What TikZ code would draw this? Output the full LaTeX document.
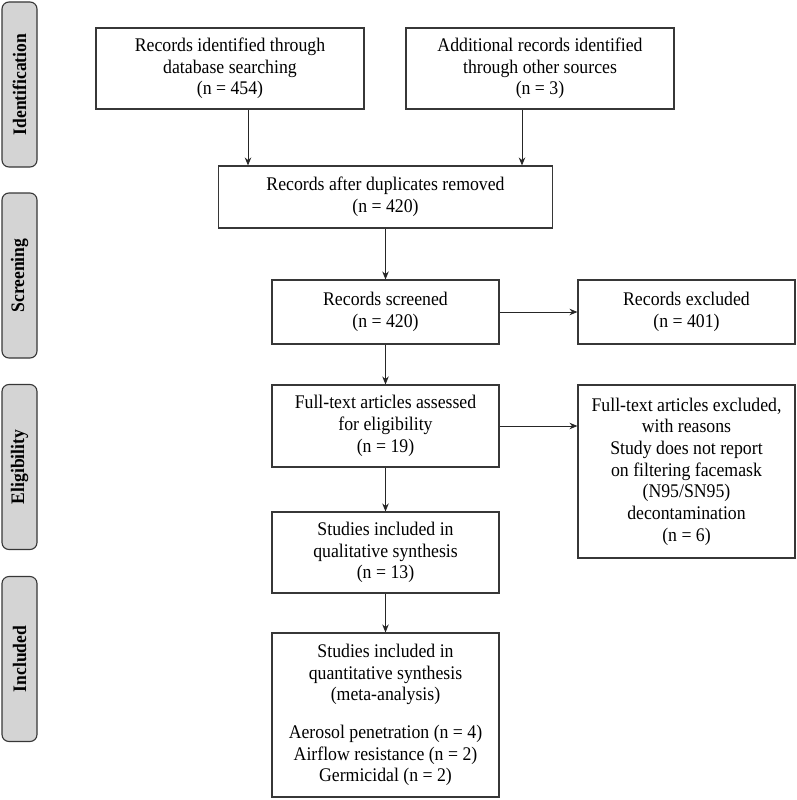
\documentclass[tikz,border=0pt]{standalone}
\usepackage{fontspec}
\setmainfont{Liberation Serif}[FakeStretch=0.92]
\usepackage{tikz}
\usetikzlibrary{arrows.meta}
\definecolor{tabgray}{RGB}{212, 212, 212}
\definecolor{edgegray}{RGB}{55, 55, 55}

\begin{document}
\begin{tikzpicture}[x=1pt, y=-1pt,
  box/.style={draw=edgegray, line width=1.1pt, align=center, inner sep=0pt,
    font=\fontsize{19.3}{21.7}\selectfont},
  tab/.style={draw=edgegray, fill=tabgray, line width=1.1pt, rounded corners=7pt,
    minimum width=165pt, minimum height=35pt, inner sep=0pt, rotate=90,
    font=\bfseries\fontsize{19.1}{21}\selectfont},
  arr/.style={-{Stealth[length=8pt, width=6.5pt]}, line width=0.9pt, draw=black!85}]
\useasboundingbox (0,0) rectangle (796,800);

% Phase tabs
\node[tab] (tabid) at (19.5,84.5) {Identification};
\node[tab] (tabscr) at (19.5,275.5) {Screening};
\node[tab] (tabel) at (19.5,467) {Eligibility};
\node[tab] (tabinc) at (19.5,659) {Included};

% Identification
\node[box, minimum width=268pt, minimum height=81pt] (db) at (230,68.5)
  {Records identified through\\database searching\\(n = 454)};
\node[box, minimum width=268pt, minimum height=81pt] (other) at (540,68.5)
  {Additional records identified\\through other sources\\(n = 3)};
\node[box, minimum width=334pt, minimum height=62pt] (dup) at (385.5,197)
  {Records after duplicates removed\\(n = 420)};

% Screening
\node[box, minimum width=227pt, minimum height=64pt] (scr) at (385.5,312)
  {Records screened\\(n = 420)};
\node[box, minimum width=217pt, minimum height=64pt] (excl) at (686.5,312)
  {Records excluded\\(n = 401)};

% Eligibility
\node[box, minimum width=227pt, minimum height=82pt] (ft) at (385.5,426)
  {Full-text articles assessed\\for eligibility\\(n = 19)};
\node[box, minimum width=217pt, minimum height=173pt] (exft) at (686.5,471.5)
  {Full-text articles excluded,\\with reasons\\Study does not report\\on filtering facemask\\(N95/SN95)\\decontamination\\(n = 6)};

% Included
\node[box, minimum width=227pt, minimum height=81pt] (qual) at (385.5,552.5)
  {Studies included in\\qualitative synthesis\\(n = 13)};
\node[box, minimum width=227pt, minimum height=164pt] (quant) at (385.5,715)
  {Studies included in\\quantitative synthesis\\(meta-analysis)\\[16pt]Aerosol penetration (n = 4)\\Airflow resistance (n = 2)\\Germicidal (n = 2)};

% Arrows
\path ([xshift=18pt]db.south) coordinate (dbout);
\path ([xshift=-18pt]other.south) coordinate (otherout);
\draw[arr] (dbout) -- (dbout |- dup.north);
\draw[arr] (otherout) -- (otherout |- dup.north);
\draw[arr] (dup.south) -- (scr.north);
\draw[arr] (scr.east) -- (excl.west);
\draw[arr] (scr.south) -- (ft.north);
\draw[arr] (ft.east) -- (ft.east -| exft.west);
\draw[arr] (ft.south) -- (qual.north);
\draw[arr] (qual.south) -- (quant.north);
\end{tikzpicture}
\end{document}
